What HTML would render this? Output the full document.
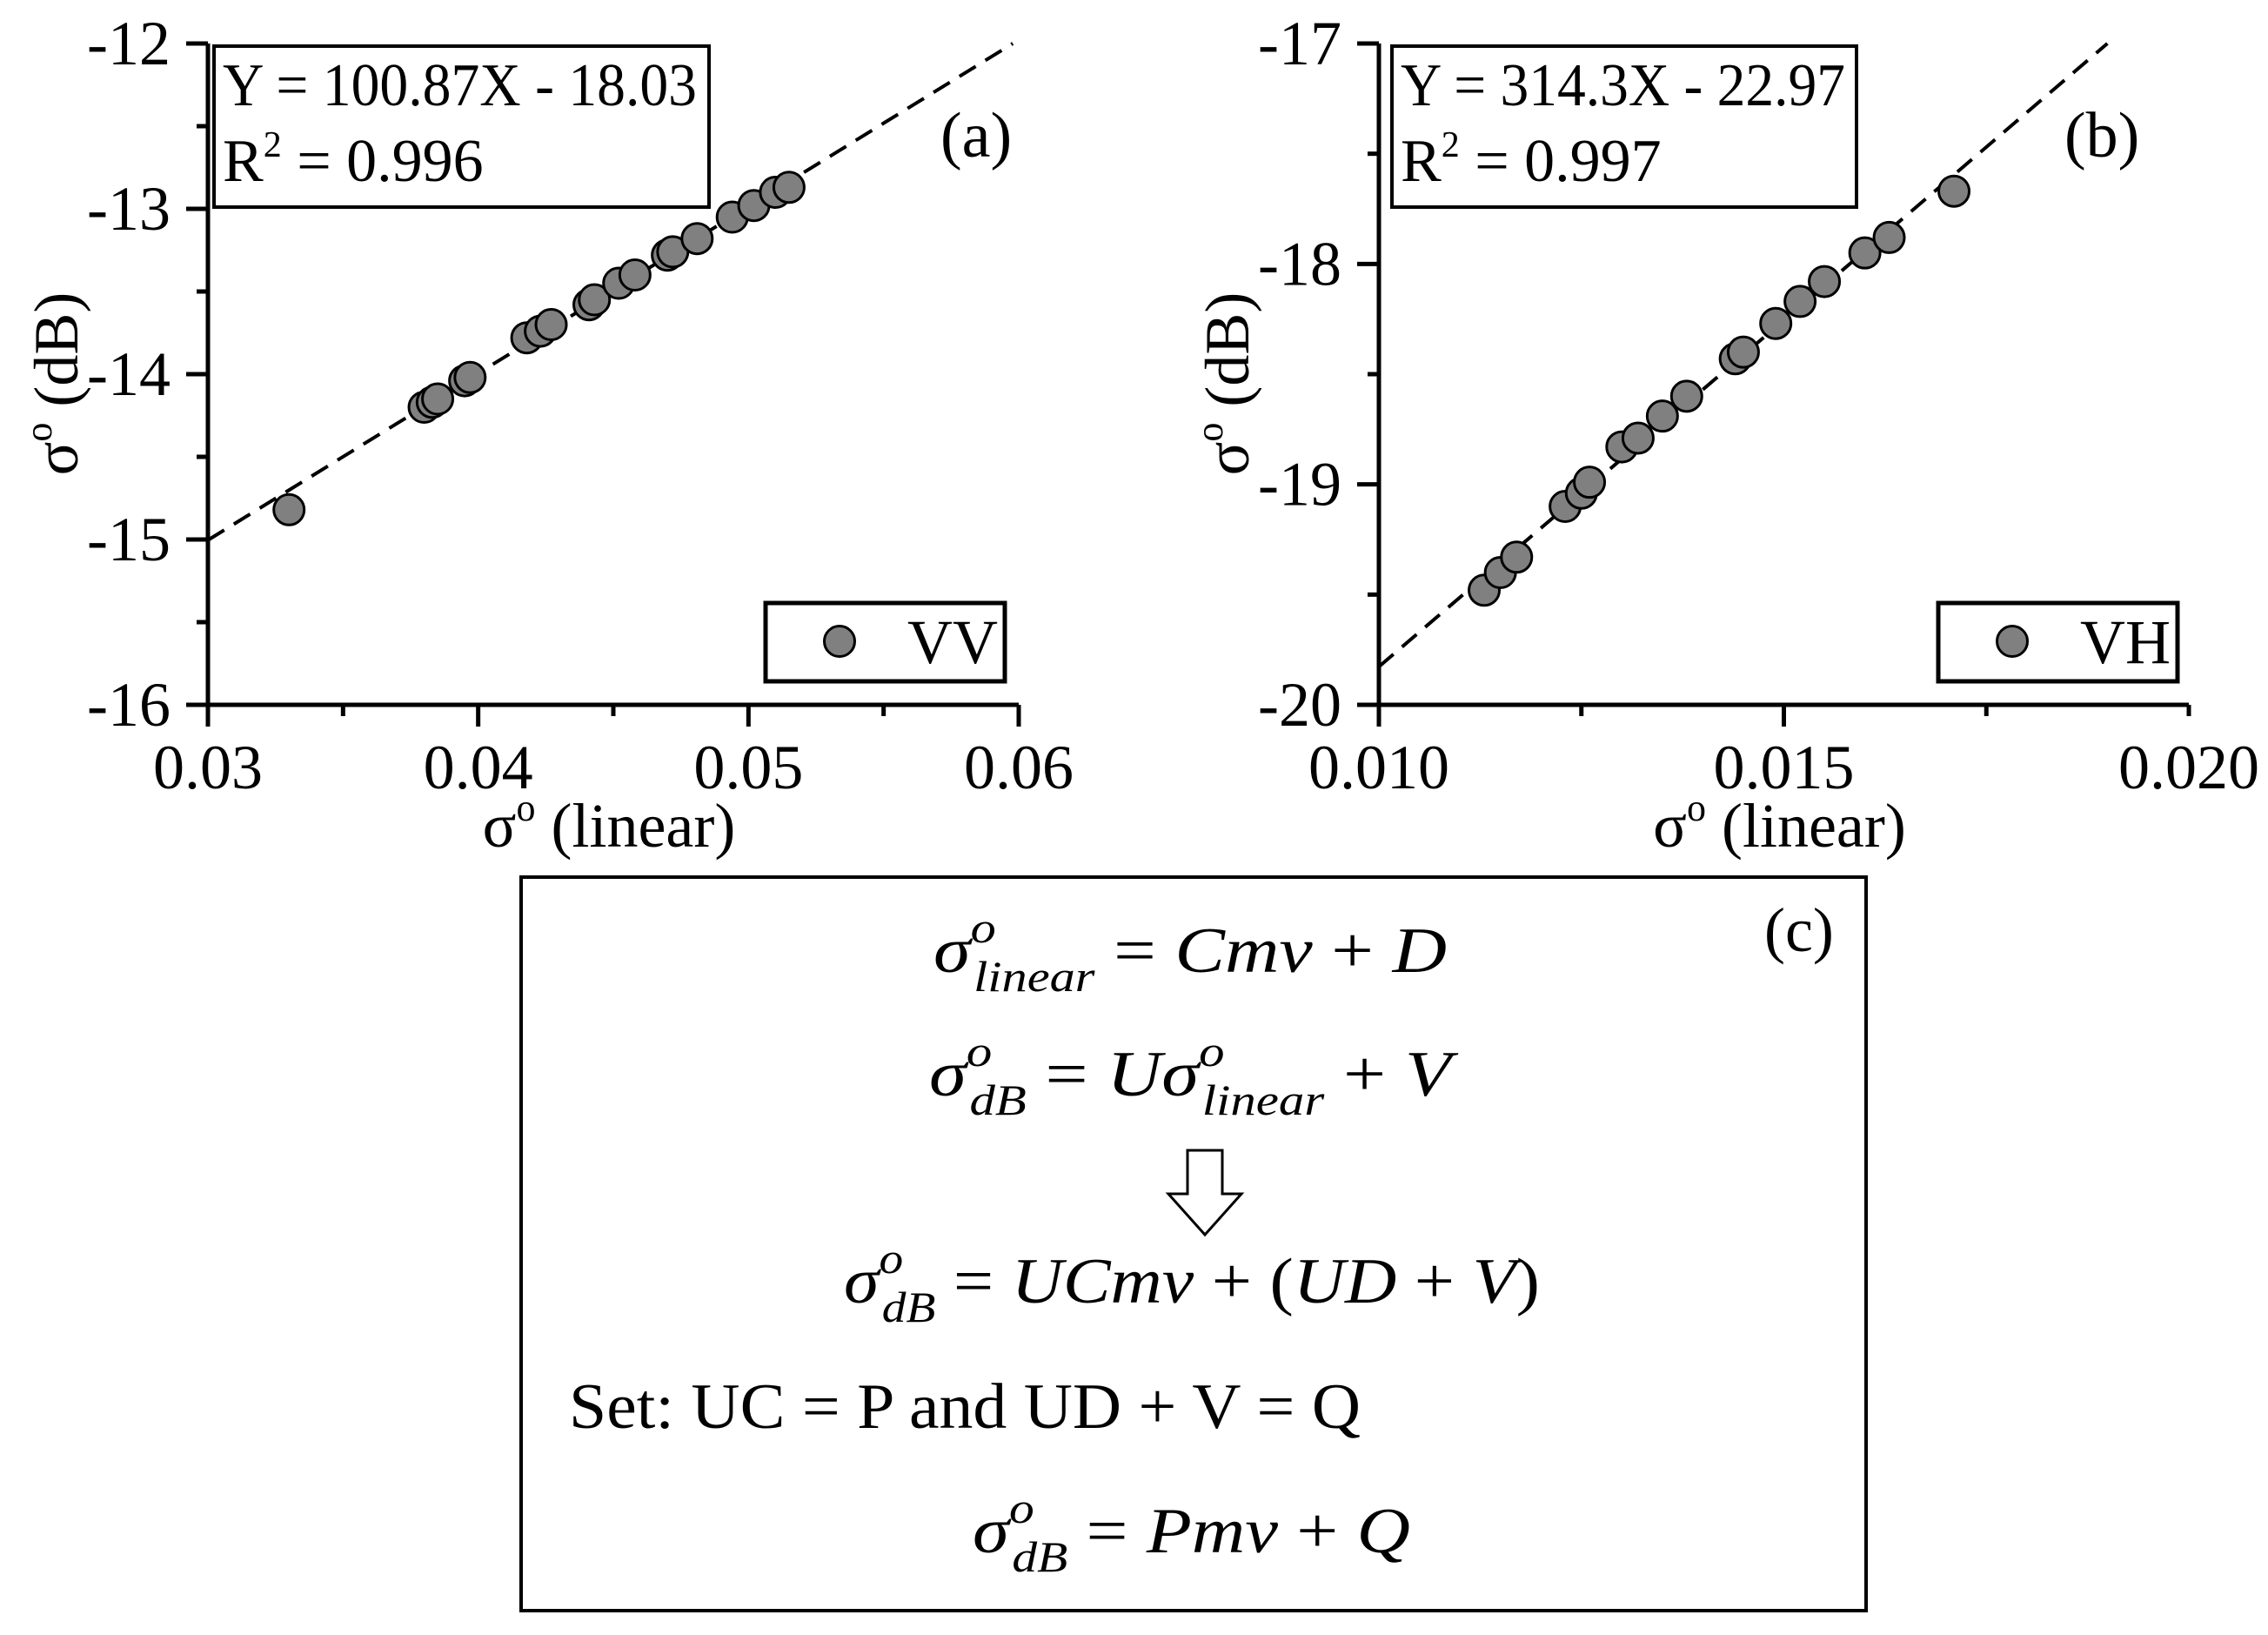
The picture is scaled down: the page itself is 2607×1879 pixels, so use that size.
<!DOCTYPE html>
<html><head><meta charset="utf-8"><style>
body{margin:0;background:#fff}
svg{display:block}
text{font-family:"Liberation Serif",serif;fill:#000}
.m{font-family:"Liberation Serif",serif;font-style:italic}
</style></head><body>
<svg id="s" width="2607" height="1879" viewBox="0 0 2607 1879" xmlns="http://www.w3.org/2000/svg">
<g id="ga"></g>
<g id="gb"></g>
<g>
<rect x="599" y="1008" width="1546" height="843" fill="none" stroke="#000" stroke-width="4"/>
<text x="2028" y="1093" font-size="72">(c)</text>
<text class="m" x="1073" y="1117" font-size="74" textLength="590" lengthAdjust="spacingAndGlyphs">σ<tspan font-size="50" dy="-34">o</tspan><tspan font-size="50" dx="-22" dy="56">linear</tspan><tspan dy="-22" font-style="normal"> = </tspan>Cmv<tspan font-style="normal"> + </tspan>D</text>
<text class="m" x="1068" y="1259" font-size="74" textLength="600" lengthAdjust="spacingAndGlyphs">σ<tspan font-size="50" dy="-34">o</tspan><tspan font-size="50" dx="-22" dy="56">dB</tspan><tspan dy="-22" font-style="normal"> = </tspan>Uσ<tspan font-size="50" dy="-34">o</tspan><tspan font-size="50" dx="-22" dy="56">linear</tspan><tspan dy="-22" font-style="normal"> + </tspan>V</text>
<polygon points="1365,1322 1405,1322 1405,1372 1427,1372 1385,1419 1343,1372 1365,1372" fill="none" stroke="#000" stroke-width="3"/>
<text class="m" x="970" y="1497" font-size="74" textLength="800" lengthAdjust="spacingAndGlyphs">σ<tspan font-size="50" dy="-34">o</tspan><tspan font-size="50" dx="-22" dy="56">dB</tspan><tspan dy="-22" font-style="normal"> = </tspan>UCmv<tspan font-style="normal"> + (</tspan>UD<tspan font-style="normal"> + </tspan>V<tspan font-style="normal">)</tspan></text>
<text x="654" y="1641" font-size="74" textLength="910" lengthAdjust="spacingAndGlyphs">Set: UC = P and UD + V = Q</text>
<text class="m" x="1118" y="1784" font-size="74" textLength="503" lengthAdjust="spacingAndGlyphs">σ<tspan font-size="50" dy="-34">o</tspan><tspan font-size="50" dx="-22" dy="56">dB</tspan><tspan dy="-22" font-style="normal"> = </tspan>Pmv<tspan font-style="normal"> + </tspan>Q</text>
</g>
</svg>
<script>
// Chart (a) VV data
const vvX=[0.0330,0.0380,0.0383,0.0385,0.0395,0.0397,0.0418,0.0423,0.0427,0.0441,0.0443,0.0452,0.0458,0.0470,0.0472,0.0481,0.0494,0.0502,0.0510,0.0515];
const vvY=[-14.82,-14.20,-14.17,-14.15,-14.04,-14.02,-13.78,-13.74,-13.70,-13.58,-13.55,-13.45,-13.40,-13.28,-13.26,-13.18,-13.05,-12.98,-12.90,-12.87];
const vvFit=[100.87,-18.03];
const vvXTicks=["0.03","0.04","0.05","0.06"];
const vvYTicks=["-16","-15","-14","-13","-12"];
// Chart (b) VH data
const vhX=[0.0113,0.0115,0.0117,0.0123,0.0125,0.0126,0.0130,0.0132,0.0135,0.0138,0.0144,0.0145,0.0149,0.0152,0.0155,0.0160,0.0163,0.0171];
const vhY=[-19.48,-19.40,-19.33,-19.10,-19.04,-18.99,-18.83,-18.79,-18.69,-18.60,-18.43,-18.40,-18.27,-18.17,-18.08,-17.95,-17.88,-17.67];
const vhFit=[314.3,-22.97];
const vhXTicks=["0.010","0.015","0.020"];
const vhYTicks=["-20","-19","-18","-17"];

const NS="http://www.w3.org/2000/svg";
function mk(p,t,a){const e=document.createElementNS(NS,t);for(const k in a)e.setAttribute(k,a[k]);p.appendChild(e);return e;}

function chart(g,o){
  const sx=v=>o.x0+(v-o.xmin)/(o.xmax-o.xmin)*(o.x1-o.x0);
  const sy=v=>o.y0-(v-o.ymin)/(o.ymax-o.ymin)*(o.y0-o.y1);
  let ax=mk(g,'path',{d:`M${o.x0},${o.y1}V${o.y0}H${o.x1}`,fill:'none',stroke:'#000','stroke-width':5});
  
  
  const xv=o.xt.map(Number), yv=o.yt.map(Number);
  const xs=(xv[1]-xv[0])/2, ys=(yv[1]-yv[0])/2;
  for(let v=xv[0];v<=xv[xv.length-1]+1e-9;v+=xs){
    const major=Math.abs(((v-xv[0])/xs)%2)<1e-6;
    const t=mk(g,'line',{x1:sx(v),x2:sx(v),y1:o.y0,y2:o.y0+(major?25:13),stroke:'#000','stroke-width':5});
    
    
  }
  for(let v=yv[0];v<=yv[yv.length-1]+1e-9;v+=ys){
    const major=Math.abs(((v-yv[0])/ys)%2)<1e-6;
    const t=mk(g,'line',{x1:o.x0,x2:o.x0-(major?25:13),y1:sy(v),y2:sy(v),stroke:'#000','stroke-width':5});
    
    
  }
  o.xt.forEach(s=>{const t=mk(g,'text',{x:sx(+s),y:o.y0+96,'font-size':72,'text-anchor':'middle'});t.textContent=s;
    
    });
  o.yt.forEach(s=>{const t=mk(g,'text',{x:o.x0-43,y:sy(+s)+24,'font-size':72,'text-anchor':'end'});t.textContent=s;
    
    });
  let xt=mk(g,'text',{x:(o.x0+o.x1)/2-5,y:o.y0+163,'font-size':72,'text-anchor':'middle'});
  xt.innerHTML='σ<tspan font-size="44" dy="-30">o</tspan><tspan dy="30">  (linear)</tspan>';
  
  
  let yt=mk(g,'text',{x:0,y:0,'font-size':72,'text-anchor':'middle',transform:`translate(${o.x0-150},441) rotate(-90)`});
  yt.innerHTML='σ<tspan font-size="44" dy="-30">o</tspan><tspan dy="30"> (dB)</tspan>';
  
  
  const fx0=o.xmin, fx1=(o.ymax-o.fit[1])/o.fit[0];
  const fx1c=Math.min(fx1,o.xmax);
  let fl=mk(g,'line',{x1:sx(fx0),y1:sy(o.fit[0]*fx0+o.fit[1]),x2:sx(fx1c),y2:sy(o.fit[0]*fx1c+o.fit[1]),stroke:'#000','stroke-width':4,'stroke-dasharray':'22 13'});
  
  
  o.px.forEach((v,i)=>{const c=mk(g,'circle',{cx:sx(v),cy:sy(o.py[i]),r:17.5,fill:'#808080',stroke:'#000','stroke-width':3});
    
    });
  let eb=mk(g,'rect',{x:o.eb[0],y:53,width:o.eb[1]-o.eb[0],height:185,fill:'none',stroke:'#000','stroke-width':4});
  
  
  let e1=mk(g,'text',{x:o.eb[0]+10,y:121,'font-size':70,textLength:o.ew,lengthAdjust:'spacingAndGlyphs'});
  e1.textContent=o.eq;
  
  
  let e2=mk(g,'text',{x:o.eb[0]+10,y:208,'font-size':70});
  e2.innerHTML='R<tspan font-size="42" dy="-28">2</tspan><tspan dy="28"> = '+o.r2+'</tspan>';
  
  
  let pl=mk(g,'text',{x:o.pl,y:180,'font-size':74});
  pl.textContent=o.lab;
  
  
  let lb=mk(g,'rect',{x:o.lg[0],y:693,width:o.lg[1]-o.lg[0],height:90,fill:'#fff',stroke:'#000','stroke-width':5});
  
  
  let lm=mk(g,'circle',{cx:o.lg[0]+85,cy:737,r:17.5,fill:'#808080',stroke:'#000','stroke-width':3});
  
  
  let lt=mk(g,'text',{x:o.lg[1]-8,y:762,'font-size':72,'text-anchor':'end'});
  lt.textContent=o.name;
  
  
}
chart(document.getElementById('ga'),{x0:239,x1:1171,y0:810,y1:50,xmin:0.03,xmax:0.06,ymin:-16,ymax:-12,
  xt:vvXTicks,yt:vvYTicks,px:vvX,py:vvY,fit:vvFit,eb:[246,815],ew:545,eq:'Y = 100.87X - 18.03',r2:'0.996',
  pl:1081,lab:'(a)',lg:[880,1155],name:'VV'});
chart(document.getElementById('gb'),{x0:1585,x1:2516,y0:810,y1:50,xmin:0.010,xmax:0.020,ymin:-20,ymax:-17,
  xt:vhXTicks,yt:vhYTicks,px:vhX,py:vhY,fit:vhFit,eb:[1600,2134],ew:511,eq:'Y = 314.3X - 22.97',r2:'0.997',
  pl:2373,lab:'(b)',lg:[2228,2503],name:'VH'});
</script>
</body></html>
